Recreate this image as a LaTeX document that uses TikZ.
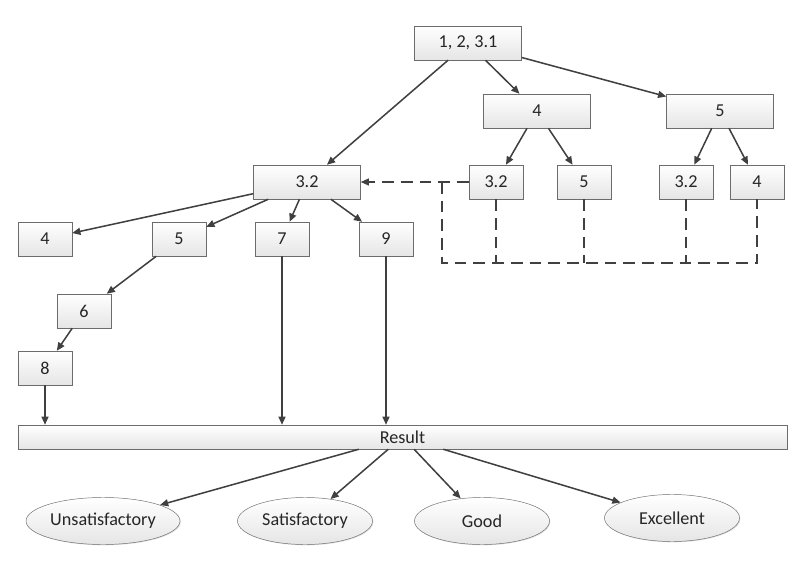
\documentclass[tikz,border=0pt]{standalone}
\usepackage{fontspec}
\setmainfont{Carlito}
\usetikzlibrary{arrows.meta,shadows,shapes.geometric}
\begin{document}
\begin{tikzpicture}[x=0.03cm,y=-0.03cm
	,box/.style={
	draw=gray!85!black
	,top color=white
	,bottom color=gray!20
	,drop shadow={shadow xshift=0.7pt,shadow yshift=-0.7pt,opacity=0.25}
	,inner sep=0
	,font=\fontsize{15.5}{18}\selectfont
	,text=black!85
	}
	,wide/.style={box,rectangle,minimum width=3.21cm,minimum height=1.02cm}
	,small/.style={box,rectangle,minimum width=1.62cm,minimum height=1.02cm}
	,grade/.style={box,ellipse,minimum width=4.05cm,minimum height=1.41cm}
	,link/.style={draw=black!75,line width=1.3pt,-{Triangle[length=7pt,width=6pt]}}
	,dashlink/.style={draw=black!75,line width=1.3pt,dash pattern=on 10pt off 6pt}
]
\useasboundingbox (0,0) rectangle (805,564);

\node[wide](top) at(468,43) {1, 2, 3.1};
\node[wide](m4) at(537,111) {4};
\node[wide](m5) at(720,111) {5};
\node[wide](b32) at(307,182) {3.2};

\foreach \n/\x/\t in {s32a/496/3.2,s5a/584/5,s32b/686/3.2,s4b/757/4}{
	\node[small](\n) at(\x,182) {\t};
}

\foreach \n/\x/\t in {l4/45/4,l5/179/5,l7/282/7,l9/386/9}{
	\node[small](\n) at(\x,239) {\t};
}
\node[small](l6) at(84,311) {6};
\node[small](l8) at(45,368) {8};

\node[box,rectangle,minimum width=23.07cm,minimum height=0.72cm](res) at(402.5,437) {Result};

\node[grade,minimum width=4.62cm](uns) at(103,521) {Unsatisfactory};
\node[grade](sat) at(305,521) {Satisfactory};
\node[grade](good) at(482,521) {Good};
\node[grade](exc) at(672,518) {Excellent};

\foreach \u \v in {
	top/b32,top/m4,top/m5%
	,m4/s32a,m4/s5a%
	,m5/s32b,m5/s4b%
	,b32/l4,b32/l5,b32/l7,b32/l9%
	,l5/l6,l6/l8%
	,res/uns,res/sat,res/good,res/exc%
}{
	\draw[link] (\u) -- (\v);
}

\foreach \u in {l8,l7,l9}{
	\draw[link] (\u) -- (\u |- res.north);
}

\coordinate(j) at(442,182);
\coordinate(bus) at(442,263);
\draw[dashlink,-{Triangle[length=7pt,width=6pt]}] (s32a) -- (b32);
\draw[dashlink] (j) -- (bus) -| (s4b.south);
\foreach \u in {s32a,s5a,s32b}{
	\draw[dashlink] (\u.south) -- (\u.south |- bus);
}

\end{tikzpicture}
\end{document}
